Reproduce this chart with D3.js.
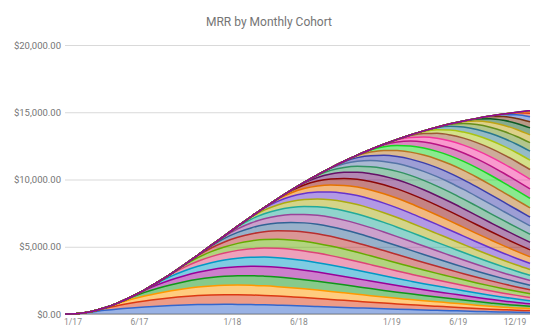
<!DOCTYPE html>
<html><head><meta charset="utf-8">
<script src="https://cdn.jsdelivr.net/npm/d3@7"></script>
<style>body{margin:0;background:#fff}svg{display:block;font-family:Roboto,Arial,sans-serif}</style>
</head><body>
<svg id="chart" width="538" height="333"></svg>
<script>
// Months (x categories), also the cohort names
const months = ['1/17','2/17','3/17','4/17','5/17','6/17','7/17','8/17','9/17','10/17','11/17','12/17',
  '1/18','2/18','3/18','4/18','5/18','6/18','7/18','8/18','9/18','10/18','11/18','12/18',
  '1/19','2/19','3/19','4/19','5/19','6/19','7/19','8/19','9/19','10/19','11/19','12/19'];
const tickLabels = ['1/17','6/17','1/18','6/18','1/19','6/19','12/19'];
const yTicks = [0, 5000, 10000, 15000, 20000];
const title = 'MRR by Monthly Cohort';

// MRR of each cohort, starting at the cohort's own month (earlier months are 0)
const cohortMRR = [
 [0,40,150,270,370,450,520,580,630,670,700,715,720,715,700,680,655,625,595,560,525,490,455,420,390,360,330,300,275,250,215,190,170,150,135,120],
 [0,40,150,270,370,450,520,580,630,670,700,715,720,715,700,680,655,625,595,560,525,490,455,420,390,360,330,300,275,250,215,190,170,150,135],
 [0,40,150,270,370,450,520,580,630,670,700,715,720,715,700,680,655,625,595,560,525,490,455,420,390,360,330,300,275,250,215,190,170,150],
 [0,40,150,270,370,450,520,580,630,670,700,715,720,715,700,680,655,625,595,560,525,490,455,420,390,360,330,300,275,250,215,190,170],
 [0,40,150,270,370,450,520,580,630,670,700,715,720,715,700,680,655,625,595,560,525,490,455,420,390,360,330,300,275,250,215,190],
 [0,40,150,270,370,450,520,580,630,670,700,715,720,715,700,680,655,625,595,560,525,490,455,420,390,360,330,300,275,250,215],
 [0,40,150,270,370,450,520,580,630,670,700,715,720,715,700,680,655,625,595,560,525,490,455,420,390,360,330,300,275,250],
 [0,40,150,270,370,450,520,580,630,670,700,715,720,715,700,680,655,625,595,560,525,490,455,420,390,360,330,300,275],
 [0,40,150,270,370,450,520,580,630,670,700,715,720,715,700,680,655,625,595,560,525,490,455,420,390,360,330,300],
 [0,40,150,270,370,450,520,580,630,670,700,715,720,715,700,680,655,625,595,560,525,490,455,420,390,360,330],
 [0,40,150,270,370,450,520,580,630,670,700,715,720,715,700,680,655,625,595,560,525,490,455,420,390,360],
 [0,40,150,270,370,450,520,580,630,670,700,715,720,715,700,680,655,625,595,560,525,490,455,420,390],
 [0,40,150,270,370,450,520,580,630,670,700,715,720,715,700,680,655,625,595,560,525,490,455,420],
 [0,40,150,270,370,450,520,580,630,670,700,715,720,715,700,680,655,625,595,560,525,490,455],
 [0,40,150,270,370,450,520,580,630,670,700,715,720,715,700,680,655,625,595,560,525,490],
 [0,40,150,270,370,450,520,580,630,670,700,715,720,715,700,680,655,625,595,560,525],
 [0,40,150,270,370,450,520,580,630,670,700,715,720,715,700,680,655,625,595,560],
 [0,40,150,270,370,450,520,580,630,670,700,715,720,715,700,680,655,625,595],
 [0,40,150,270,370,450,520,580,630,670,700,715,720,715,700,680,655,625],
 [0,40,150,270,370,450,520,580,630,670,700,715,720,715,700,680,655],
 [0,40,150,270,370,450,520,580,630,670,700,715,720,715,700,680],
 [0,40,150,270,370,450,520,580,630,670,700,715,720,715,700],
 [0,40,150,270,370,450,520,580,630,670,700,715,720,715],
 [0,40,150,270,370,450,520,580,630,670,700,715,720],
 [0,40,150,270,370,450,520,580,630,670,700,715],
 [0,40,150,270,370,450,520,580,630,670,700],
 [0,40,150,270,370,450,520,580,630,670],
 [0,40,150,270,370,450,520,580,630],
 [0,40,150,270,370,450,520,580],
 [0,40,150,270,370,450,520],
 [0,40,150,270,370,450],
 [0,40,150,270,370],
 [0,40,150,270],
 [0,40,150],
 [0,40],
 [0]
];

const palette = ['#3366cc','#dc3912','#ff9900','#109618','#990099','#0099c6','#dd4477','#66aa00',
  '#b82e2e','#316395','#994499','#22aa99','#aaaa11','#6633cc','#e67300','#8b0707','#651067',
  '#329262','#5574a6','#3b3eac','#b77322','#16d620','#b91383','#f4359e','#9c5935','#a9c413',
  '#2a778d','#668d1c','#bea413','#0c5922','#743411'];

// ---- build table ----
const table = months.map((m, i) => {
  const row = {month: m};
  months.forEach((c, ci) => { row[c] = i >= ci ? cohortMRR[ci][i - ci] : 0; });
  return row;
});

const svg = d3.select('#chart');
const plotL = 65, plotR = 530, plotT = 45, plotB = 314;

const x = d3.scalePoint().domain(months).range([plotL, plotR]);
const y = d3.scaleLinear().domain([0, 20000]).range([plotB, plotT]);

// title
svg.append('text').attr('x', 269).attr('y', 25.5).attr('text-anchor', 'middle')
  .attr('font-size', 12).attr('fill', '#757575').text(title);

// y axis + gridlines
const fmt = d3.format(',.2f');
const yAxis = svg.append('g').attr('transform', `translate(${plotL},0)`)
  .call(d3.axisLeft(y).tickValues(yTicks).tickSize(-(plotR - plotL)).tickPadding(4)
    .tickFormat(d => '$' + fmt(d)));
yAxis.select('.domain').remove();
yAxis.selectAll('.tick line').attr('stroke', '#d9d9d9');
yAxis.selectAll('.tick text').attr('fill', '#757575').attr('font-size', 9.5)
  .attr('font-family', 'Roboto, Arial, sans-serif');

// stacked areas
const series = d3.stack().keys(months)(table);
const area = d3.area().x(d => x(d.data.month)).y0(d => y(d[0])).y1(d => y(d[1]))
  .curve(d3.curveMonotoneX);
const line = d3.line().x(d => x(d.data.month)).y(d => y(d[1])).curve(d3.curveMonotoneX);

svg.append('g').selectAll('path').data(series).join('path')
  .attr('d', area).attr('fill', (d, i) => palette[i % palette.length]).attr('fill-opacity', 0.5);

svg.append('line').attr('x1', plotL).attr('x2', plotR).attr('y1', y(0)).attr('y2', y(0))
  .attr('stroke', '#555').attr('stroke-opacity', 0.6);

svg.append('g').selectAll('path').data(series).join('path')
  .attr('d', line).attr('fill', 'none').attr('stroke', (d, i) => palette[i % palette.length])
  .attr('stroke-width', 1.5);

// x axis labels
const xAxis = svg.append('g').attr('transform', `translate(0,${plotB})`)
  .call(d3.axisBottom(x).tickValues(tickLabels).tickSize(0).tickPadding(0));
xAxis.select('.domain').remove();
xAxis.selectAll('.tick').attr('transform', (d, i, n) => {
  const px = i === n.length - 1 ? Math.min(x(d) + 8, 515) : x(d) + 8;
  return `translate(${px},0)`;
});
xAxis.selectAll('.tick text').attr('y', 11).attr('dy', 0).attr('fill', '#8a8a8a')
  .attr('font-size', 8.5).attr('font-family', 'Roboto, Arial, sans-serif');
</script>
</body></html>
